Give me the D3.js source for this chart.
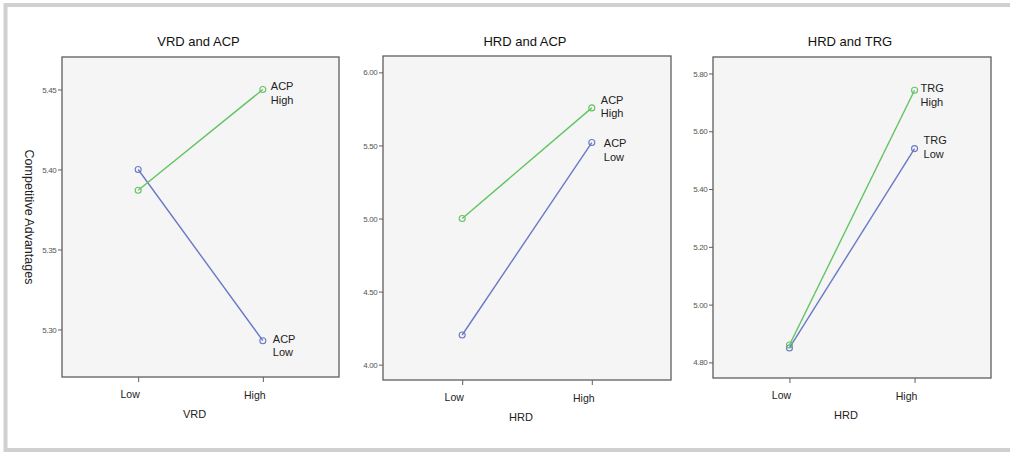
<!DOCTYPE html>
<html>
<head>
<meta charset="utf-8">
<script src="https://cdn.jsdelivr.net/npm/d3@7"></script>
<style>
  body { margin: 0; background: #fff; }
  svg { display: block; font-family: "Liberation Sans", Arial, sans-serif; }
</style>
</head>
<body>
<svg id="chart" width="1010" height="452"></svg>
<script>
// Data
const categories = ["Low", "High"];
const panelTitles = ["VRD and ACP", "HRD and ACP", "HRD and TRG"];
const xTitles = ["VRD", "HRD", "HRD"];
const moderators = ["ACP", "ACP", "TRG"];
const highValues = [[5.387, 5.450], [5.000, 5.757], [4.860, 5.742]];
const lowValues = [[5.400, 5.293], [4.203, 5.520], [4.850, 5.540]];
const yTicks = [
    [5.30, 5.35, 5.40, 5.45],
    [4.00, 4.50, 5.00, 5.50, 6.00],
    [4.80, 5.00, 5.20, 5.40, 5.60, 5.80]
];
const yDomains = [[5.2703, 5.4703], [3.895, 6.112], [4.746, 5.857]];

// Layout: plot boxes and label nudges
const boxes = [
    { x0: 62, x1: 339, y0: 57, y1: 377 },
    { x0: 383, x1: 671, y0: 56, y1: 380 },
    { x0: 713, x1: 991, y0: 57, y1: 378 }
];
const labelNudge = [
    { high: [8, -3], low: [10, -2] },
    { high: [9, -8], low: [12, 1] },
    { high: [6, -2], low: [9, -8] }
];

const green = "#62c462";
const blue = "#6a78c6";

const svg = d3.select("#chart");

// Outer light grey frame (open on the right)
svg.append("rect")
    .attr("x", 5.5).attr("y", 5)
    .attr("width", 1020).attr("height", 445)
    .attr("fill", "none")
    .attr("stroke", "#d0d0d0")
    .attr("stroke-width", 4);

boxes.forEach((b, i) => {
    const g = svg.append("g");

    const xScale = d3.scalePoint()
        .domain(categories)
        .range([b.x0, b.x1])
        .padding(0.611);

    const yScale = d3.scaleLinear()
        .domain(yDomains[i])
        .range([b.y1, b.y0]);

    // Plot background and frame
    g.append("rect")
        .attr("x", b.x0).attr("y", b.y0)
        .attr("width", b.x1 - b.x0).attr("height", b.y1 - b.y0)
        .attr("fill", "#f5f5f5")
        .attr("stroke", "#5e5e5e")
        .attr("stroke-width", 1.3);

    // Y axis
    const yAxis = d3.axisLeft(yScale)
        .tickValues(yTicks[i])
        .tickFormat(d3.format(".2f"))
        .tickSize(4)
        .tickPadding(1.5);

    g.append("g")
        .attr("transform", `translate(${b.x0}, 0)`)
        .call(yAxis)
        .call(a => a.select(".domain").remove())
        .call(a => a.selectAll("line").attr("stroke", "#5e5e5e"))
        .call(a => a.selectAll("text")
            .attr("fill", "#555")
            .style("font-size", "8px")
            .style("letter-spacing", "-0.3px"));

    // X axis: ticks only, labels drawn by hand so they can sit slightly left
    const xAxis = d3.axisBottom(xScale).tickSize(5).tickFormat("");
    g.append("g")
        .attr("transform", `translate(0, ${b.y1})`)
        .call(xAxis)
        .call(a => a.select(".domain").remove())
        .call(a => a.selectAll("line").attr("stroke", "#5e5e5e"));

    categories.forEach((c, k) => {
        g.append("text")
            .attr("x", xScale(c) - 8)
            .attr("y", b.y1 + 17 + k)
            .attr("dy", "0.35em")
            .attr("text-anchor", "middle")
            .attr("fill", "#222")
            .style("font-size", "10.5px")
            .text(c);
    });

    // Titles
    g.append("text")
        .attr("x", (b.x0 + b.x1) / 2 - 2)
        .attr("y", 41)
        .attr("dy", "0.35em")
        .attr("text-anchor", "middle")
        .attr("fill", "#111")
        .style("font-size", "13px")
        .text(panelTitles[i]);

    g.append("text")
        .attr("x", (b.x0 + b.x1) / 2 - 6)
        .attr("y", b.y1 + 37)
        .attr("dy", "0.35em")
        .attr("text-anchor", "middle")
        .attr("fill", "#222")
        .style("font-size", "11px")
        .text(xTitles[i]);

    // Lines and open circle markers
    const line = d3.line()
        .x((d, k) => xScale(categories[k]))
        .y(d => yScale(d));

    const series = [
        { values: lowValues[i], colour: blue, name: "Low", nudge: labelNudge[i].low },
        { values: highValues[i], colour: green, name: "High", nudge: labelNudge[i].high }
    ];

    series.forEach(s => {
        g.append("path")
            .datum(s.values)
            .attr("d", line)
            .attr("fill", "none")
            .attr("stroke", s.colour)
            .attr("stroke-width", 1.4);

        g.selectAll(null)
            .data(s.values)
            .enter()
            .append("circle")
            .attr("cx", (d, k) => xScale(categories[k]))
            .attr("cy", d => yScale(d))
            .attr("r", 3)
            .attr("fill", "none")
            .attr("stroke", s.colour)
            .attr("stroke-width", 1.1);

        // End label, two lines
        const lx = xScale("High") + s.nudge[0];
        const ly = yScale(s.values[1]) + s.nudge[1];
        const t = g.append("text")
            .attr("x", lx)
            .attr("y", ly)
            .attr("dy", "0.35em")
            .attr("fill", "#222")
            .style("font-size", "11px");
        t.append("tspan").attr("x", lx).text(moderators[i]);
        t.append("tspan").attr("x", lx).attr("dy", "1.25em").text(s.name);
    });
});

// Shared y title, reads top to bottom
svg.append("text")
    .attr("transform", "translate(29, 217) rotate(90)")
    .attr("text-anchor", "middle")
    .attr("dy", "0.35em")
    .attr("fill", "#222")
    .style("font-size", "12.5px")
    .text("Competitive Advantages");
</script>
</body>
</html>
